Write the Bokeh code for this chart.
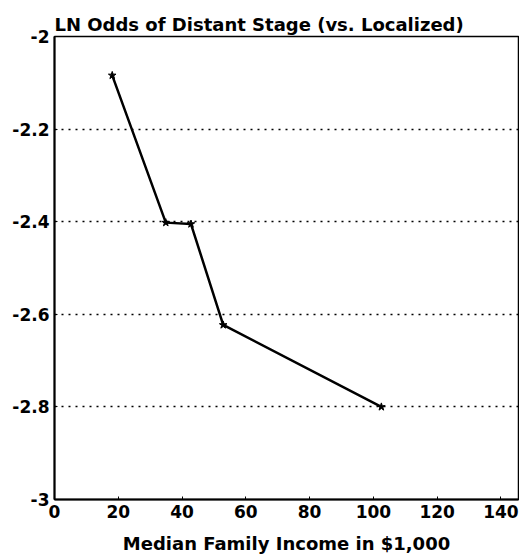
from bokeh.plotting import figure
from bokeh.embed import file_html
from bokeh.resources import INLINE
from bokeh.models import NumeralTickFormatter, FixedTicker, Range1d

income = [18.1, 34.9, 42.8, 52.9, 102.5]
ln_odds = [-2.084, -2.402, -2.405, -2.623, -2.800]
x_ticks = [0, 20, 40, 60, 80, 100, 120, 140]
y_ticks = [-3, -2.8, -2.6, -2.4, -2.2, -2]

FONT = "DejaVu Sans"

p = figure(width=519, height=560, output_backend="svg", toolbar_location=None,
           x_range=Range1d(0, 145.5), y_range=Range1d(-3, -2),
           min_border_left=54, min_border_right=1, min_border_top=36, min_border_bottom=61)

p.title.text = "LN Odds of Distant Stage (vs. Localized)"
p.title.text_font = FONT
p.title.text_font_size = "18px"
p.title.text_font_style = "bold"
p.title.text_color = "black"
p.title.offset = 0
p.title.standoff = 3

p.line(income, ln_odds, line_color="black", line_width=2.5)
p.scatter(income, ln_odds, marker="star", size=8, fill_color="black", line_color="black")

p.outline_line_color = "black"
p.outline_line_width = 1.5
p.background_fill_color = "white"
p.border_fill_color = "white"

p.xgrid.visible = False
p.ygrid.grid_line_color = "black"
p.ygrid.grid_line_dash = "2 5"
p.ygrid.grid_line_width = 1.3
p.ygrid.ticker = FixedTicker(ticks=[-2.8, -2.6, -2.4, -2.2])

p.xaxis.ticker = FixedTicker(ticks=x_ticks)
p.yaxis.ticker = FixedTicker(ticks=y_ticks)
p.yaxis.formatter = NumeralTickFormatter(format="0.[0]")

for ax in (p.xaxis[0], p.yaxis[0]):
    ax.axis_line_width = 2
    ax.axis_line_color = "black"
    ax.major_tick_in = 3
    ax.major_tick_out = 0
    ax.minor_tick_in = 0
    ax.minor_tick_out = 0
    ax.major_tick_line_color = "black"
    ax.major_label_text_font = FONT
    ax.major_label_text_font_size = "17px"
    ax.major_label_text_font_style = "bold"
    ax.major_label_text_color = "black"
    ax.major_label_standoff = 5

p.xaxis.axis_label = "Median Family Income in $1,000"
p.xaxis.axis_label_text_font = FONT
p.xaxis.axis_label_text_font_size = "18px"
p.xaxis.axis_label_text_font_style = "bold"
p.xaxis.axis_label_text_color = "black"
p.xaxis.axis_label_standoff = 12

open("out.html", "w").write(file_html(p, INLINE))
